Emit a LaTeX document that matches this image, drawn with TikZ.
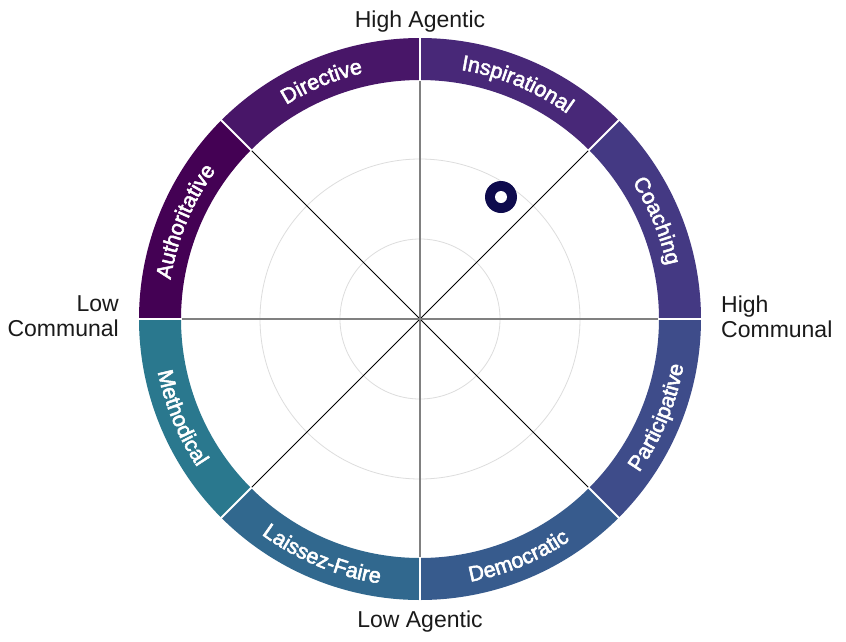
\documentclass[tikz,border=0pt]{standalone}
\usepackage{fontspec}
\setmainfont{Liberation Sans}
\setsansfont{Liberation Sans}
\newfontfamily\ringfam[FakeBold=2.5]{Liberation Sans}
\usetikzlibrary{decorations.text}
\definecolor{cAuth}{HTML}{440154}
\definecolor{cDir}{HTML}{481668}
\definecolor{cInsp}{HTML}{482878}
\definecolor{cCoach}{HTML}{443983}
\definecolor{cPart}{HTML}{3E4C8A}
\definecolor{cDemo}{HTML}{375B8D}
\definecolor{cLais}{HTML}{31688E}
\definecolor{cMeth}{HTML}{2A788E}
\definecolor{gridgray}{HTML}{DDDDDD}
\definecolor{axisgray}{HTML}{808080}
\definecolor{markernavy}{HTML}{0E0B4D}
\definecolor{labeltext}{HTML}{1A1A1A}
\newcommand\ringlabelfont{\ringfam\fontsize{21.5}{21.5}\selectfont\color{white}}
\tikzset{
  gridcircle/.style={draw=gridgray, line width=0.8pt},
  mainaxis/.style={draw=axisgray, line width=1.6pt},
  diagaxis/.style={draw=black, line width=0.8pt},
  separator/.style={draw=white, line width=2pt},
  axislabel/.style={text=labeltext, inner sep=0pt, font=\fontsize{23}{25}\selectfont},
}
\begin{document}
\begin{tikzpicture}[x=1pt,y=1pt]
\useasboundingbox (-420,-322) rectangle (426,319);
\fill[white] (-420,-322) rectangle (426,319);
% grid circles
\foreach \r in {80,160,240} \draw[gridcircle] (0,0) circle (\r);
% axes
\coordinate (c) at (0,0);
\foreach \a in {45,135,225,315} \draw[diagaxis] (c) -- (\a:239);
\draw[mainaxis] (0,239) -- (0,-239);
\draw[mainaxis] (-239,0) -- (239,0);
% ring segments
\foreach \a/\col in {0/cCoach,45/cInsp,90/cDir,135/cAuth,180/cMeth,225/cLais,270/cDemo,315/cPart}{
  \pgfmathsetmacro\b{\a+45}
  \fill[\col] (\a:239) arc[start angle=\a, end angle=\b, radius=239] -- (\b:281) arc[start angle=\b, end angle=\a, radius=281] -- cycle;
}
\foreach \a in {0,45,...,315} \draw[separator] (\a:238) -- (\a:282);
% ring labels (top half: clockwise, bottom half: counterclockwise)
\path[decorate, decoration={text along path, text align=center, text={|\ringlabelfont|Authoritative}}] (180:252.5) arc[start angle=180, end angle=135, radius=252.5];
\path[decorate, decoration={text along path, text align=center, text={|\ringlabelfont|Directive}}] (135:252.5) arc[start angle=135, end angle=90, radius=252.5];
\path[decorate, decoration={text along path, text align=center, text={|\ringlabelfont|Inspirational}}] (90:252.5) arc[start angle=90, end angle=45, radius=252.5];
\path[decorate, decoration={text along path, text align=center, text={|\ringlabelfont|Coaching}}] (45:252.5) arc[start angle=45, end angle=0, radius=252.5];
\path[decorate, decoration={text along path, text align=center, text={|\ringlabelfont|Methodical}}] (180:267.5) arc[start angle=180, end angle=225, radius=267.5];
\path[decorate, decoration={text along path, text align=center, text={|\ringlabelfont|Laissez-Faire}}] (225:267.5) arc[start angle=225, end angle=270, radius=267.5];
\path[decorate, decoration={text along path, text align=center, text={|\ringlabelfont|Democratic}}] (270:267.5) arc[start angle=270, end angle=315, radius=267.5];
\path[decorate, decoration={text along path, text align=center, text={|\ringlabelfont|Participative}}] (315:267.5) arc[start angle=315, end angle=360, radius=267.5];
% marker
\fill[markernavy] (81,122) circle (16);
\fill[white] (81,122) circle (6);
% axis labels
\node[axislabel, anchor=base] (hagentic) at (0,292) {High Agentic};
\node[axislabel, anchor=base] (lagentic) at (0,-308) {Low Agentic};
\node[axislabel, anchor=east, align=right] (lcommunal) at (-301,2.5) {Low\\Communal};
\node[axislabel, anchor=west, align=left] (hcommunal) at (301,2.5) {High\\Communal};
\end{tikzpicture}
\end{document}
